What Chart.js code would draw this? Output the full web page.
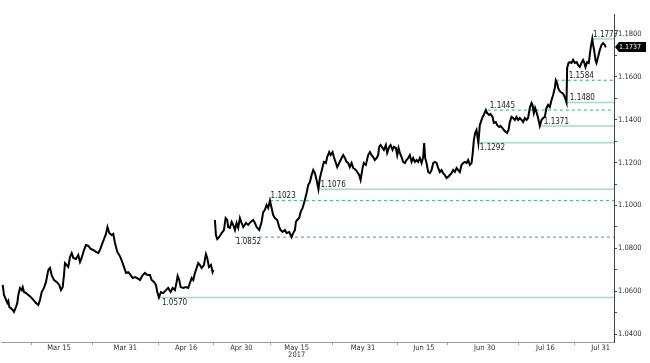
<!DOCTYPE html>
<html>
<head>
<meta charset="utf-8">
<script src="https://cdn.jsdelivr.net/npm/chart.js@4/dist/chart.umd.min.js"></script>
<style>
  html, body { margin: 0; padding: 0; background: #fff; }
  #wrap { width: 650px; height: 363px; }
</style>
</head>
<body>
<div id="wrap"><canvas id="chart"></canvas></div>
<script>
// x = trading day index (0 = 1 Mar 2017, weekends skipped), y = price
const days = [
  -0.18, 0.05, 0.42, 0.65, 0.83, 1.01, 1.27, 1.63, 1.86, 2.22, 2.46, 2.64, 2.95, 3.25, 3.44, 3.67, 4.03, 4.45, 4.88, 5.35,
  5.84, 6.26, 6.56, 6.87, 7.29, 7.65, 8.07, 8.37, 8.68, 9.10, 9.58, 10.05, 10.36, 10.67, 10.90, 11.08, 11.39, 11.68, 11.99, 12.30,
  12.59, 13.07, 13.49, 13.80, 14.10, 14.52, 14.88, 15.30, 15.73, 16.20, 16.69, 17.11, 17.41, 17.72, 18.14, 18.50, 18.77, 19.10, 19.53, 19.82,
  20.13, 20.54, 20.90, 21.16, 21.52, 21.75, 22.12, 22.53, 22.97, 23.33, 23.74, 24.16, 24.65, 25.14, 25.55, 25.97, 26.46, 26.76, 27.18, 27.54,
  27.78, 28.08, 28.44, 28.86, 29.35, 29.76, 30.20, 30.56, 30.98, 31.28, 31.46, 31.75, 32.01, 32.48, 32.97, 33.38, 33.69, 34.00, 34.29, 34.59,
  34.90, 35.19, 35.50, 35.80, 36.22, 36.58, 36.82, 37.13, 37.49, 37.79, 37.94, 38.05,
  38.21, 38.39, 38.63, 38.99, 39.42, 39.84, 40.14, 40.43, 40.61, 40.92, 41.23, 41.52, 41.83, 42.13, 42.42, 42.73, 43.04, 43.33, 43.82, 44.23,
  44.67, 45.14, 45.44, 45.75, 46.22, 46.65, 46.94, 47.25, 47.56, 47.85, 48.16, 48.46, 48.75, 49.06, 49.48, 49.84, 50.09, 50.45, 50.87, 51.17,
  51.65, 52.08, 52.37, 52.68, 52.86, 53.09, 53.45, 53.71, 54.07, 54.48, 54.79, 55.08, 55.39, 55.70, 55.99, 56.29, 56.60, 56.93, 57.20, 57.68,
  57.92, 58.28, 58.52, 58.88, 59.13, 59.49, 59.73, 60.09, 60.33, 60.69, 61.12, 61.41, 61.72, 62.02, 62.31, 62.62, 62.93, 63.22, 63.71, 63.94,
  64.30, 64.56, 64.92, 65.15, 65.51, 65.93, 66.24, 66.55, 66.84, 67.14, 67.45, 67.74, 67.92, 68.17, 68.53, 68.77, 69.13, 69.37, 69.73, 69.98,
  70.34, 70.58, 70.94, 71.18, 71.43, 71.66, 71.97, 72.26, 72.57, 72.87, 73.16, 73.47, 73.78, 74.07, 74.37, 74.68, 74.97, 75.28, 75.59, 75.88,
  76.06, 76.24, 76.49, 76.78, 77.09, 77.40, 77.69, 77.99, 78.30, 78.59, 78.90, 79.20, 79.49, 79.80, 80.11, 80.40, 80.70, 81.01, 81.30, 81.61,
  81.92, 82.21, 82.51, 82.82, 83.11, 83.42, 83.72, 84.01, 84.32, 84.63, 84.81, 85.05, 85.28, 85.53, 85.86, 86.13, 86.62, 86.85, 87.21, 87.45,
  87.81, 88.06, 88.43, 88.66, 89.02, 89.26, 89.62, 89.87, 90.23, 90.47, 90.83, 91.07, 91.32, 91.55, 91.86, 92.15, 92.46, 92.77, 93.06, 93.36,
  93.67, 93.96, 94.27, 94.58, 94.86, 95.17, 95.48, 95.66, 95.90, 96.13, 96.38, 96.67, 96.98, 97.29, 97.58, 97.88, 98.19, 98.48, 98.79, 99.10,
  99.39, 99.69, 99.87, 100.11, 100.29, 100.47, 100.72, 101.08, 101.32, 101.55, 101.81, 101.92, 102.17, 102.40, 102.71, 103.00, 103.31, 103.62, 103.91, 104.21,
  104.52, 104.81, 104.99, 105.24, 105.53, 105.84, 106.02, 106.20, 106.47, 106.62, 106.80, 107.05, 107.23, 107.52, 107.83, 108.14, 108.43, 108.73, 108.92
];
const prices = [
  1.0629, 1.0582, 1.0559, 1.0545, 1.0554, 1.0526, 1.0521, 1.0512, 1.0503, 1.0526, 1.0545, 1.0582, 1.0615, 1.0605, 1.0619, 1.0596, 1.0591, 1.0582, 1.0573, 1.0559,
  1.0545, 1.0535, 1.0559, 1.0596, 1.0615, 1.0643, 1.0699, 1.0708, 1.0675, 1.0652, 1.0643, 1.0629, 1.0605, 1.0619, 1.0675, 1.0731, 1.0722, 1.0713, 1.0759, 1.0778,
  1.0755, 1.0750, 1.0769, 1.0736, 1.0755, 1.0792, 1.0815, 1.0811, 1.0797, 1.0792, 1.0783, 1.0778, 1.0792, 1.0815, 1.0843, 1.0867, 1.0899, 1.0871, 1.0862, 1.0867,
  1.0825, 1.0783, 1.0769, 1.0755, 1.0731, 1.0713, 1.0685, 1.0689, 1.0675, 1.0661, 1.0666, 1.0661, 1.0652, 1.0675, 1.0685, 1.0675, 1.0675, 1.0652, 1.0643, 1.0629,
  1.0596, 1.0570, 1.0596, 1.0591, 1.0605, 1.0615, 1.0596, 1.0615, 1.0605, 1.0643, 1.0671, 1.0652, 1.0619, 1.0615, 1.0619, 1.0615, 1.0638, 1.0661, 1.0652, 1.0685,
  1.0708, 1.0731, 1.0722, 1.0708, 1.0722, 1.0773, 1.0755, 1.0713, 1.0722, 1.0689, 1.0699, null,
  1.0932, 1.0862, 1.0843, 1.0853, 1.0871, 1.0885, 1.0941, 1.0932, 1.0899, 1.0895, 1.0923, 1.0909, 1.0885, 1.0918, 1.0895, 1.0941, 1.0918, 1.0899, 1.0918, 1.0909,
  1.0923, 1.0932, 1.0918, 1.0899, 1.0885, 1.0923, 1.0969, 1.0979, 1.1002, 1.0988, 1.1023, 1.0988, 1.0955, 1.0941, 1.0932, 1.0899, 1.0885, 1.0876, 1.0885, 1.0871,
  1.0876, 1.0852, 1.0871, 1.0885, 1.0923, 1.0932, 1.0941, 1.0969, 1.0988, 1.1025, 1.1058, 1.1095, 1.1109, 1.1142, 1.1165, 1.1151, 1.1119, 1.1076, 1.1128, 1.1179,
  1.1203, 1.1198, 1.1226, 1.1249, 1.1235, 1.1249, 1.1226, 1.1198, 1.1179, 1.1198, 1.1221, 1.1235, 1.1221, 1.1203, 1.1198, 1.1179, 1.1198, 1.1175, 1.1165, 1.1156,
  1.1142, 1.1119, 1.1175, 1.1198, 1.1189, 1.1235, 1.1249, 1.1235, 1.1226, 1.1212, 1.1221, 1.1235, 1.1273, 1.1282, 1.1268, 1.1259, 1.1282, 1.1245, 1.1273, 1.1282,
  1.1259, 1.1273, 1.1268, 1.1235, 1.1268, 1.1245, 1.1226, 1.1203, 1.1198, 1.1212, 1.1221, 1.1235, 1.1203, 1.1221, 1.1203, 1.1212, 1.1203, 1.1221, 1.1198, 1.1226,
  1.1291, 1.1221, 1.1198, 1.1156, 1.1151, 1.1165, 1.1198, 1.1203, 1.1198, 1.1175, 1.1156, 1.1165, 1.1151, 1.1142, 1.1128, 1.1133, 1.1142, 1.1151, 1.1165, 1.1156,
  1.1175, 1.1165, 1.1156, 1.1189, 1.1198, 1.1203, 1.1198, 1.1212, 1.1189, 1.1198, 1.1235, 1.1305, 1.1338, 1.1352, 1.1292, 1.1375, 1.1413, 1.1422, 1.1445, 1.1431,
  1.1422, 1.1427, 1.1413, 1.1385, 1.1389, 1.1375, 1.1366, 1.1371, 1.1361, 1.1352, 1.1343, 1.1338, 1.1352, 1.1389, 1.1413, 1.1408, 1.1399, 1.1413, 1.1399, 1.1408,
  1.1399, 1.1389, 1.1408, 1.1399, 1.1408, 1.1455, 1.1478, 1.1469, 1.1431, 1.1455, 1.1436, 1.1408, 1.1371, 1.1399, 1.1408, 1.1413, 1.1455, 1.1469, 1.1459, 1.1492,
  1.1515, 1.1548, 1.1584, 1.1571, 1.1548, 1.1539, 1.1529, 1.1525, 1.1515, 1.1501, 1.1480, 1.1641, 1.1665, 1.1669, 1.1665, 1.1679, 1.1665, 1.1669, 1.1655, 1.1646,
  1.1665, 1.1679, 1.1669, 1.1646, 1.1669, 1.1665, 1.1702, 1.1739, 1.1777, 1.1749, 1.1725, 1.1679, 1.1665, 1.1693, 1.1725, 1.1749, 1.1758, 1.1749, 1.1737
];

// support / resistance levels
const levelValues = [1.1777, 1.1584, 1.1480, 1.1445, 1.1371, 1.1292, 1.1076, 1.1023, 1.0852, 1.0570];
const levelStartDays = [106.56, 99.87, 101.86, 87.58, 96.80, 85.95, 57.02, 48.16, 41.83, 28.26];
const levelLabelDays = [106.62, 102.2, 102.4, 87.94, 97.71, 86.13, 57.32, 48.28, 42.0, 28.63];
const levelDashed = [false, true, false, true, false, false, false, true, true, false];
const levelLabelSide = ['above', 'above', 'above', 'above', 'above', 'below', 'above', 'above', 'below', 'below'];
const lastPrice = 1.1737;

// axes
const xMin = -0.49, xMax = 110.4;
const xMarkDays = [5, 16, 28, 38, 48.3, 59.4, 71.3, 80.3, 93.2, 103.3];
const xLabelDays = [10, 22, 33, 43, 53, 65, 76, 87, 98, 108];
const xLabels = ['Mar 15', 'Mar 31', 'Apr 16', 'Apr 30', ['May 15', '2017'], 'May 31', 'Jun 15', 'Jun 30', 'Jul 16', 'Jul 31'];
const yMin = 1.03627, yMax = 1.18933;
const yTicks = [1.04, 1.05, 1.06, 1.07, 1.08, 1.09, 1.10, 1.11, 1.12, 1.13, 1.14, 1.15, 1.16, 1.17, 1.18];

const FONT = '"Liberation Sans Narrow", "DejaVu Sans Condensed", sans-serif';
const SOLID = '#a3dcc8';
const DASHED = '#4fb794';

const priceSet = {
  data: days.map((d, i) => ({ x: d, y: prices[i] })),
  borderColor: '#000',
  borderWidth: 2,
  pointRadius: 0,
  tension: 0,
  spanGaps: false
};

const levelSets = levelValues.map((v, i) => ({
  data: [{ x: levelStartDays[i], y: v }, { x: xMax, y: v }],
  borderColor: levelDashed[i] ? DASHED : SOLID,
  borderWidth: levelDashed[i] ? 1.2 : 1.5,
  borderDash: levelDashed[i] ? [3, 3] : [],
  pointRadius: 0
}));

const annotate = {
  id: 'annotate',
  afterDatasetsDraw(chart) {
    const { ctx, scales: { x, y }, chartArea } = chart;
    ctx.save();
    ctx.font = '8px ' + FONT;
    ctx.fillStyle = '#222';
    ctx.textAlign = 'left';
    levelValues.forEach((v, i) => {
      const px = x.getPixelForValue(levelLabelDays[i]);
      const py = y.getPixelForValue(v);
      if (levelLabelSide[i] === 'above') {
        ctx.textBaseline = 'bottom';
        ctx.fillText(v.toFixed(4), px, py - 0.5);
      } else {
        ctx.textBaseline = 'top';
        ctx.fillText(v.toFixed(4), px, py + 1);
      }
    });

    // last price tag on the axis
    const ly = Math.round(y.getPixelForValue(lastPrice));
    const lx = chartArea.right + 1;
    ctx.fillStyle = '#000';
    ctx.beginPath();
    ctx.moveTo(lx, ly);
    ctx.lineTo(lx + 4, ly - 5);
    ctx.lineTo(lx + 31, ly - 5);
    ctx.lineTo(lx + 31, ly + 5);
    ctx.lineTo(lx + 4, ly + 5);
    ctx.closePath();
    ctx.fill();
    ctx.font = '7px ' + FONT;
    ctx.fillStyle = '#fff';
    ctx.textBaseline = 'middle';
    ctx.fillText(lastPrice.toFixed(4), lx + 4, ly + 0.5);
    ctx.restore();
  }
};

new Chart(document.getElementById('chart'), {
  type: 'line',
  data: { datasets: [priceSet, ...levelSets] },
  plugins: [annotate],
  options: {
    responsive: true,
    maintainAspectRatio: false,
    animation: false,
    events: [],
    layout: { padding: { top: 14, left: 1, right: 0, bottom: 0 } },
    plugins: { legend: { display: false }, tooltip: { enabled: false } },
    scales: {
      x: {
        type: 'linear',
        min: xMin,
        max: xMax,
        afterBuildTicks: s => {
          s.ticks = xMarkDays.map(v => ({ value: v })).concat(xLabelDays.map(v => ({ value: v })));
        },
        afterFit: s => { s.height = 21; },
        border: { color: '#9a9a9a', width: 1 },
        grid: {
          drawOnChartArea: false,
          tickLength: 3,
          tickColor: c => (c.tick && xLabelDays.includes(c.tick.value)) ? 'rgba(0,0,0,0)' : '#9a9a9a'
        },
        ticks: {
          autoSkip: false,
          maxRotation: 0,
          padding: -1,
          color: '#333',
          font: { family: FONT, size: 7.5, lineHeight: 1 },
          callback: v => {
            const k = xLabelDays.indexOf(v);
            return k >= 0 ? xLabels[k] : '';
          }
        }
      },
      y: {
        type: 'linear',
        position: 'right',
        min: yMin,
        max: yMax,
        afterBuildTicks: s => { s.ticks = yTicks.map(v => ({ value: v })); },
        afterFit: s => { s.width = 36; },
        border: { color: '#444', width: 1 },
        grid: { drawOnChartArea: false, tickLength: 3, tickColor: '#444' },
        ticks: {
          padding: 1,
          color: '#333',
          font: { family: FONT, size: 7.5 },
          callback: v => (Math.round(v * 100) % 2 === 0 ? v.toFixed(4) : '')
        }
      }
    }
  }
});
</script>
</body>
</html>
